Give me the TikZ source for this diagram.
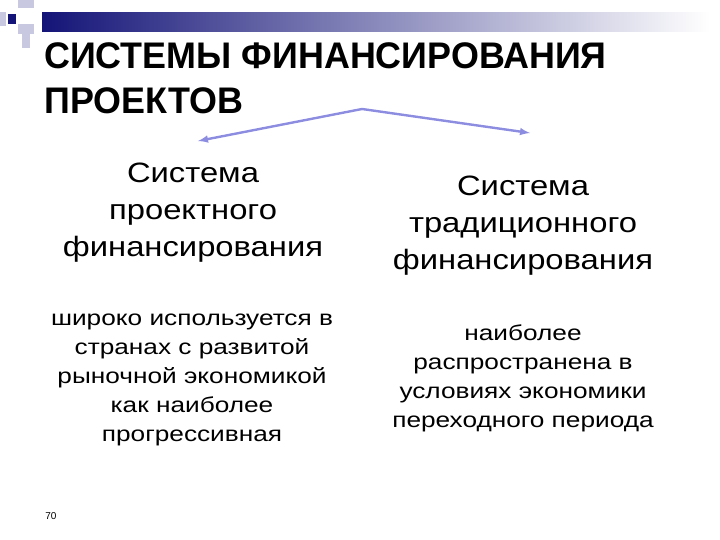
\documentclass[tikz,border=0pt]{standalone}
\usepackage{fontspec}
\setmainfont{Liberation Sans}
\begin{document}
\begin{tikzpicture}[x=1pt,y=-1pt,
  big/.style={align=center,font=\fontsize{28}{37}\selectfont,xscale=1.17},
  small/.style={align=center,font=\fontsize{21.5}{29}\selectfont,xscale=1.22},
  arr/.style={draw={rgb,255:red,140;green,140;blue,225},line width=2.4pt,-latex}]
\useasboundingbox (0,0) rectangle (720,540);
\definecolor{navy}{RGB}{20,20,120}
\definecolor{lav}{RGB}{200,200,225}
\shade[left color=navy,right color=white] (42,13) rectangle (710,32);
\fill[lav] (18,0) rectangle (34,8);
\fill[lav] (0,12) rectangle (6,26);
\fill[lav] (18,24) rectangle (34,34);
\fill[lav] (22,34) rectangle (30,48);
\fill[navy] (8,14) rectangle (16,24);
\node[anchor=north west,inner sep=0,align=left,font=\fontsize{37}{45}\selectfont\bfseries] (title) at (44,42) {\scalebox{0.97}[1]{СИСТЕМЫ ФИНАНСИРОВАНИЯ}\\\scalebox{0.97}[1]{ПРОЕКТОВ}};
\coordinate (top) at (362,109);
\coordinate (l) at (198,141);
\coordinate (r) at (530,133);
\draw[arr] (top) -- (l);
\draw[arr] (top) -- (r);
\node[big] (a) at (193,213) {Система\\проектного\\финансирования};
\node[big] (b) at (523,226) {Система\\традиционного\\финансирования};
\node[small] (c) at (192,380) {широко используется в\\странах с развитой\\рыночной экономикой\\как наиболее\\прогрессивная};
\node[small] (d) at (523,378) {наиболее\\распространена в\\условиях экономики\\переходного периода};
\node[font=\fontsize{10}{12}\selectfont] (n) at (51,516) {70};
\end{tikzpicture}
\end{document}
